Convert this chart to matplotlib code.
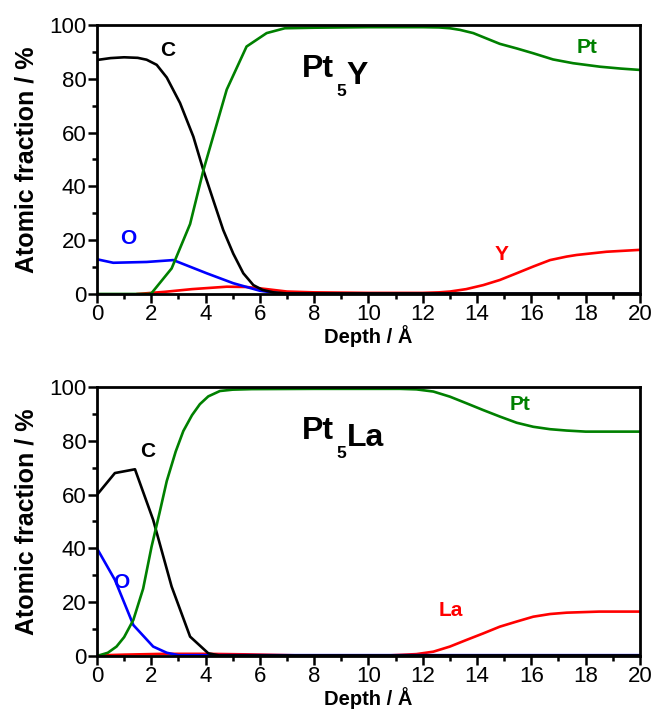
import matplotlib
matplotlib.use("Agg")
import matplotlib.pyplot as plt
from matplotlib.ticker import MultipleLocator

plt.rcParams['font.family'] = ['Liberation Sans', 'DejaVu Sans']

# ---- Pt5Y panel data ----
y_C_x  = [0, 0.5, 1.0, 1.5, 1.83, 2.2, 2.57, 3.06, 3.55, 3.92, 4.28, 4.65, 5.02, 5.39, 5.76, 6.1, 6.5, 7, 20]
y_C_v  = [87, 87.7, 88, 87.8, 87.1, 85.2, 80.5, 71, 58.5, 46, 35, 23.8, 15, 7.7, 3.3, 1.5, 0.6, 0.2, 0.2]
y_O_x  = [0, 0.6, 1.83, 2.81, 4.04, 5.02, 6.0, 6.75, 8, 20]
y_O_v  = [12.9, 11.6, 11.9, 12.6, 7.7, 4.0, 1.2, 0.2, 0, 0]
y_Pt_x = [0, 1.9, 2.01, 2.75, 3.43, 3.92, 4.78, 5.51, 6.25, 6.92, 8, 10, 12, 12.6, 13.0, 13.37, 13.86, 14.84, 15.46, 16.07, 16.8, 17.54, 18.53, 19.3, 20]
y_Pt_v = [0, 0, 0.3, 9.5, 26, 46, 76, 92, 97, 98.8, 99, 99.2, 99.2, 99.1, 98.8, 98.2, 97, 93, 91.3, 89.5, 87.2, 85.8, 84.5, 83.8, 83.3]
y_Y_x  = [1.5, 2.5, 3.5, 4.78, 5.5, 6.0, 7.0, 8, 10, 12, 12.6, 13.0, 13.6, 14.23, 14.84, 15.46, 16.07, 16.69, 17.3, 17.67, 18.77, 20]
y_Y_v  = [0, 0.8, 1.8, 2.7, 2.6, 2.1, 0.9, 0.6, 0.4, 0.4, 0.6, 0.9, 1.8, 3.3, 5.2, 7.7, 10.2, 12.6, 13.9, 14.5, 15.7, 16.4]

# ---- Pt5La panel data ----
l_C_x  = [0, 0.66, 1.4, 2.07, 2.75, 3.43, 4.1, 4.5, 20]
l_C_v  = [59.9, 68, 69.4, 50.6, 25.8, 7.2, 1.0, 0.2, 0.2]
l_O_x  = [0, 0.66, 1.34, 2.07, 2.57, 3.0, 20]
l_O_v  = [40, 28.3, 11.5, 3.5, 1.2, 0.3, 0.3]
l_Pt_x = [0, 0.4, 0.72, 1.0, 1.34, 1.7, 2.01, 2.3, 2.57, 2.9, 3.18, 3.5, 3.79, 4.1, 4.53, 5.0, 5.7, 8, 11.16, 11.77, 12.39, 13.0, 13.62, 14.23, 14.84, 15.46, 16.07, 16.69, 17.3, 18.0, 20]
l_Pt_v = [0, 1.2, 3.5, 7, 13.4, 25, 40.6, 53, 65, 76, 83.6, 89.5, 93.6, 96.5, 98.5, 99, 99.2, 99.3, 99.3, 99.1, 98.3, 96.4, 93.9, 91.4, 89, 86.7, 85.2, 84.3, 83.8, 83.4, 83.4]
l_La_x = [0, 1, 2.5, 4, 5.5, 7, 8, 10.5, 11.16, 11.77, 12.39, 13.0, 13.62, 14.23, 14.84, 15.46, 16.07, 16.69, 17.3, 18.5, 20]
l_La_v = [0.2, 0.5, 0.8, 0.8, 0.6, 0.3, 0.1, 0.1, 0.4, 0.7, 1.6, 3.5, 6, 8.4, 10.9, 12.8, 14.6, 15.6, 16.1, 16.5, 16.5]

xticks = [0, 2, 4, 6, 8, 10, 12, 14, 16, 18, 20]
yticks = [0, 20, 40, 60, 80, 100]

fig = plt.figure(figsize=(6.57, 7.17), dpi=100)
ax1 = fig.add_axes([0.1476, 0.590, 0.8264, 0.3751])
ax2 = fig.add_axes([0.1476, 0.0851, 0.8264, 0.3752])

lw = 1.9
green = '#008000'
red = '#ff0000'
blue = '#0000ff'

def style(ax):
    ax.set_xlim(0, 20)
    ax.set_ylim(0, 100)
    ax.set_xticks(xticks)
    ax.set_yticks(yticks)
    ax.xaxis.set_minor_locator(MultipleLocator(1))
    ax.yaxis.set_minor_locator(MultipleLocator(10))
    ax.tick_params(which='major', direction='out', length=6.5, width=1.8,
                   labelsize=16, pad=1)
    ax.tick_params(which='minor', direction='out', length=3.5, width=1.8)
    for s in ax.spines.values():
        s.set_linewidth(2)
    ax.set_xlabel('Depth / Å', fontsize=14.5, fontweight='bold', labelpad=0)
    ax.set_ylabel('Atomic fraction / %', fontsize=18, fontweight='bold', labelpad=8)

def formula(ax, x, y, base, sub, rest):
    t1 = ax.text(x, y, base, fontsize=23, fontweight='bold', ha='left', va='baseline')
    t2 = ax.annotate(sub, xy=(1, 0), xycoords=t1, xytext=(1.5, -9),
                     textcoords='offset points', fontsize=12.5, fontweight='bold',
                     ha='left', va='baseline')
    ax.annotate(rest, xy=(1, 0), xycoords=(t2, t1), xytext=(0.5, 0),
                textcoords='offset points', fontsize=23, fontweight='bold',
                ha='left', va='baseline')

style(ax1)
ax1.plot(y_Y_x, y_Y_v, color=red, lw=lw, solid_joinstyle='round')
ax1.plot(y_O_x, y_O_v, color=blue, lw=lw, solid_joinstyle='round')
ax1.plot(y_C_x, y_C_v, color='black', lw=lw, solid_joinstyle='round')
ax1.plot(y_Pt_x, y_Pt_v, color=green, lw=lw, solid_joinstyle='round')
ax1.text(2.6, 90.5, 'C', fontsize=15, fontweight='bold', color='black', ha='center', va='center')
ax1.text(1.15, 20.5, 'O', fontsize=15, fontweight='bold', color=blue, ha='center', va='center')
ax1.text(18.05, 91.5, 'Pt', fontsize=15, fontweight='bold', color=green, ha='center', va='center')
ax1.text(14.9, 14.5, 'Y', fontsize=15, fontweight='bold', color=red, ha='center', va='center')
formula(ax1, 7.55, 80.7, 'Pt', '5', 'Y')

style(ax2)
ax2.plot(l_La_x, l_La_v, color=red, lw=lw, solid_joinstyle='round')
ax2.plot(l_O_x, l_O_v, color=blue, lw=lw, solid_joinstyle='round')
ax2.plot(l_C_x, l_C_v, color='black', lw=lw, solid_joinstyle='round')
ax2.plot(l_Pt_x, l_Pt_v, color=green, lw=lw, solid_joinstyle='round')
ax2.text(1.85, 76, 'C', fontsize=15, fontweight='bold', color='black', ha='center', va='center')
ax2.text(0.9, 27.5, 'O', fontsize=15, fontweight='bold', color=blue, ha='center', va='center')
ax2.text(15.6, 93.5, 'Pt', fontsize=15, fontweight='bold', color=green, ha='center', va='center')
ax2.text(13.05, 17, 'La', fontsize=15, fontweight='bold', color=red, ha='center', va='center')
formula(ax2, 7.55, 80.7, 'Pt', '5', 'La')

fig.savefig('out.png', dpi=100)
